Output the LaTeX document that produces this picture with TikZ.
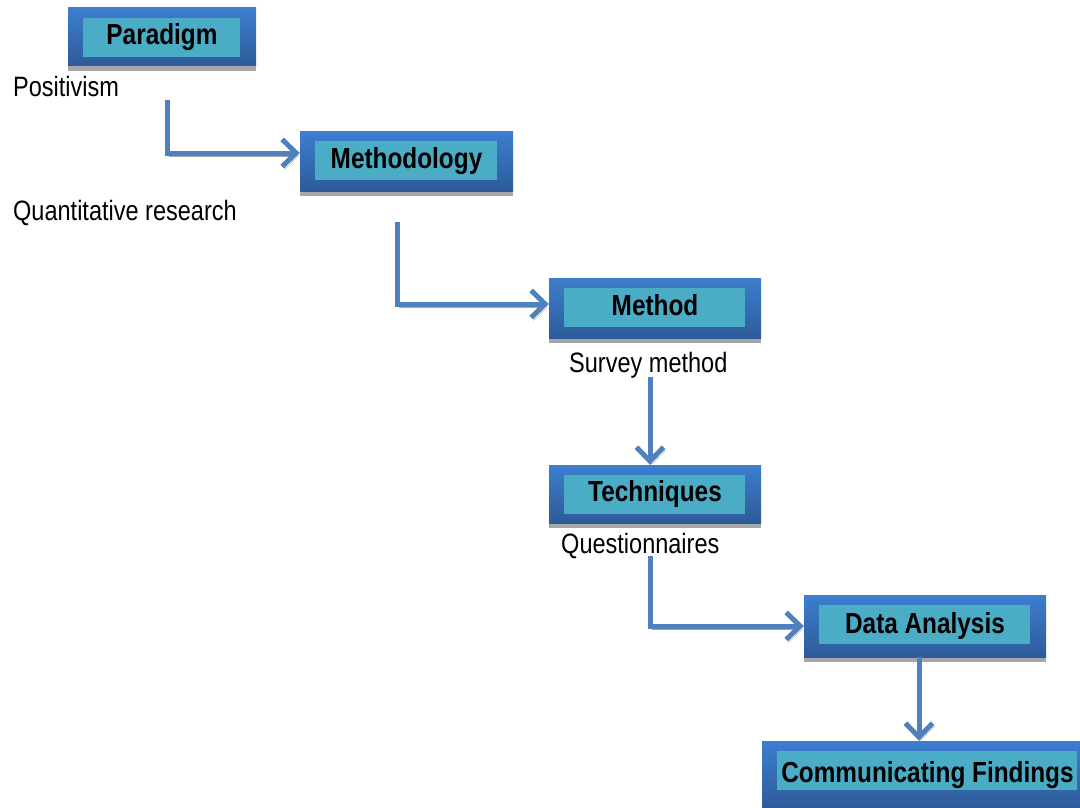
\documentclass[tikz,border=0pt]{standalone}
\usepackage{fontspec}
\setmainfont{Liberation Sans}
\newfontfamily\labelfont[FakeStretch=0.84]{Liberation Sans}
\usetikzlibrary{arrows.meta,shadows,calc}

\definecolor{boxtop}{HTML}{3C7ED0}
\definecolor{boxbot}{HTML}{2E5B98}
\definecolor{innerteal}{HTML}{4BACC6}
\definecolor{arrowblue}{HTML}{4F81BD}
\definecolor{shadowgrey}{HTML}{A6A6A6}

\tikzset{
  stagebox/.style={
    inner sep=0pt, draw=none,
    top color=boxtop, bottom color=boxbot,
    drop shadow={shadow xshift=0pt, shadow yshift=-5pt, fill=shadowgrey, opacity=1},
    path picture={
      \fill[innerteal]
        ([xshift=15pt,yshift=-10pt]path picture bounding box.north west)
        rectangle ([xshift=-16pt,yshift=-49pt]path picture bounding box.north east);
    },
    text height=21pt, text depth=6pt,
    font=\labelfont\bfseries\fontsize{29}{30}\selectfont, text=black},
  note/.style={font=\labelfont\fontsize{28}{30}\selectfont, inner sep=0pt, anchor=base west},
  barb/.style={-{Straight Barb[length=14pt,width=27pt]}},
  flow/.style={
    preaction={draw=shadowgrey, barb, transform canvas={shift={(2pt,-3pt)}}},
    draw=arrowblue, line width=5pt, barb}
}

\begin{document}
\begin{tikzpicture}[x=1pt,y=-1pt]
  \clip (0,0) rectangle (1080,808);
  \fill[white] (0,0) rectangle (1080,808);

  % stages
  \node[stagebox, minimum width=188pt, minimum height=58pt] (para) at (162,37) {Paradigm};
  \node[stagebox, minimum width=213pt, minimum height=60pt] (meth) at (406.5,161) {Methodology};
  \node[stagebox, minimum width=212pt, minimum height=60pt] (mthd) at (655,308) {Method};
  \node[stagebox, minimum width=212pt, minimum height=58pt] (tech) at (655,494) {Techniques};
  \node[stagebox, minimum width=242pt, minimum height=62pt] (data) at (925,626) {Data Analysis};
  \node[stagebox, minimum width=331pt, minimum height=68pt] (comm) at (927.5,775) {Communicating Findings};

  % notes under the stages
  \node[note] (pos)  at (13,97)   {Positivism};
  \node[note] (quan) at (13,220)  {Quantitative research};
  \node[note] (surv) at (569,372) {Survey method};
  \node[note] (ques) at (561,553) {Questionnaires};

  % connectors
  \coordinate (s1) at (167,100);
  \coordinate (s2) at (397,222);
  \coordinate (s3) at (650,377);
  \coordinate (s4) at (650,556);

  \draw[flow] (s1) |- ([yshift=8pt]meth.west);
  \draw[flow] (s2) |- ([yshift=4pt]mthd.west);
  \draw[flow] (s3) -- (s3 |- tech.north);
  \draw[flow] (s4) |- (data.west);
  \draw[flow] ([xshift=-6pt]data.south) -- ([xshift=-6pt]data.south |- comm.north);
\end{tikzpicture}
\end{document}
